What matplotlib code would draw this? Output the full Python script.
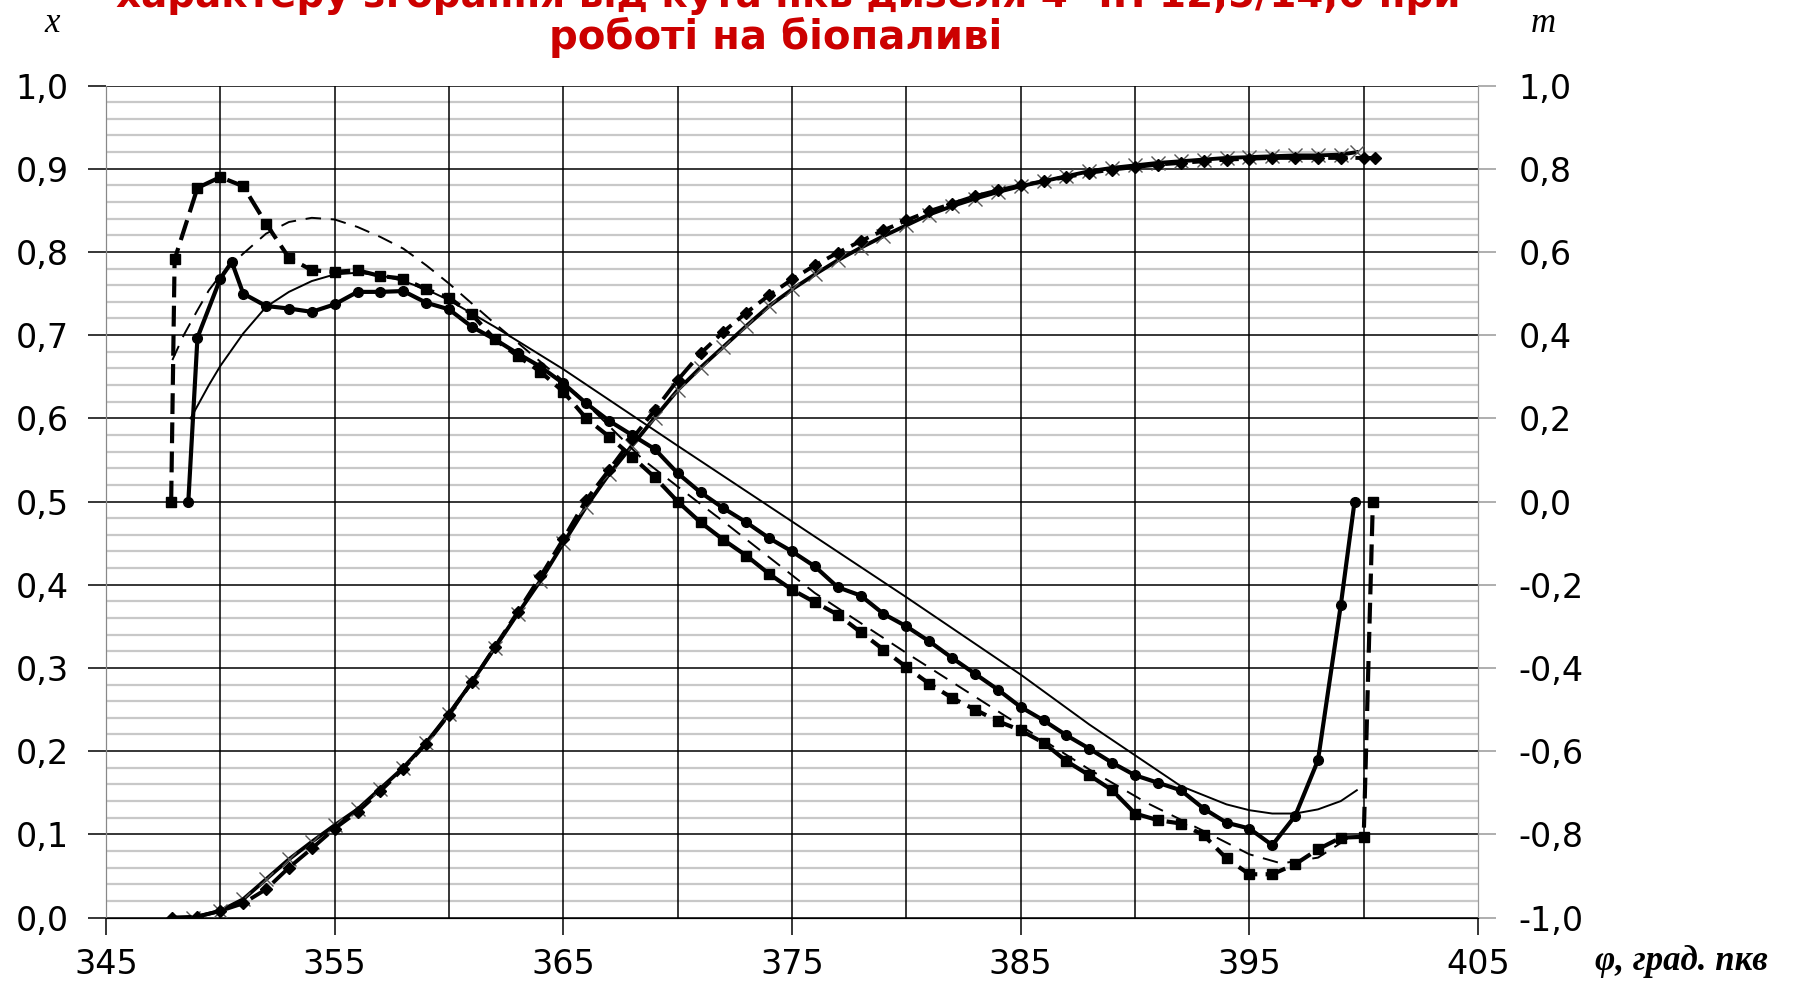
import matplotlib
matplotlib.use("Agg")
import matplotlib.pyplot as plt

# burned fraction x (left axis)
phi_x_solid = [348.8] + list(range(350, 400)) + [399.7]
x_solid = [0.0, 0.008, 0.022, 0.046, 0.07, 0.091, 0.111, 0.13, 0.155, 0.18, 0.21, 0.245,
           0.283, 0.324, 0.365, 0.405, 0.45, 0.494, 0.533, 0.567, 0.601, 0.634, 0.661, 0.686,
           0.711, 0.735, 0.755, 0.773, 0.79, 0.805, 0.819, 0.832, 0.845, 0.855, 0.864, 0.872,
           0.879, 0.885, 0.891, 0.897, 0.901, 0.904, 0.907, 0.909, 0.911, 0.913, 0.914, 0.915,
           0.916, 0.916, 0.917, 0.92]
phi_x_dash = [347.9] + list(range(349, 401)) + [400.5]
x_dash = [0.0, 0.001, 0.008, 0.017, 0.034, 0.06, 0.083, 0.107, 0.127, 0.152, 0.179, 0.209,
          0.244, 0.283, 0.325, 0.367, 0.41, 0.455, 0.502, 0.538, 0.575, 0.61, 0.646, 0.678,
          0.704, 0.727, 0.748, 0.767, 0.784, 0.799, 0.813, 0.826, 0.838, 0.849, 0.858, 0.867,
          0.874, 0.88, 0.885, 0.89, 0.895, 0.899, 0.902, 0.905, 0.907, 0.909, 0.911, 0.912,
          0.913, 0.913, 0.913, 0.913, 0.913, 0.913]

# combustion character m (right axis)
phi_m_circ = [348.6, 349, 350, 350.5] + list(range(351, 400)) + [399.6]
m_circ = [0.0, 0.394, 0.536, 0.576, 0.5, 0.47, 0.464, 0.456, 0.474, 0.504, 0.504, 0.506,
          0.478, 0.462, 0.42, 0.39, 0.356, 0.324, 0.284, 0.236, 0.194, 0.16, 0.126, 0.068,
          0.022, -0.016, -0.05, -0.088, -0.12, -0.156, -0.206, -0.226, -0.27, -0.3, -0.336,
          -0.376, -0.414, -0.452, -0.494, -0.526, -0.562, -0.594, -0.628, -0.658, -0.676,
          -0.694, -0.738, -0.772, -0.786, -0.826, -0.756, -0.622, -0.248, 0.0]
phi_m_sq = [347.85, 348] + list(range(349, 401)) + [400.4]
m_sq = [0.0, 0.582, 0.754, 0.78, 0.758, 0.668, 0.586, 0.556, 0.552, 0.556, 0.542, 0.536,
        0.51, 0.49, 0.45, 0.39, 0.35, 0.312, 0.264, 0.2, 0.156, 0.108, 0.058, 0.0, -0.05,
        -0.092, -0.13, -0.174, -0.212, -0.242, -0.272, -0.314, -0.356, -0.398, -0.438,
        -0.472, -0.5, -0.528, -0.55, -0.58, -0.624, -0.658, -0.694, -0.75, -0.766, -0.774,
        -0.802, -0.858, -0.896, -0.896, -0.872, -0.836, -0.808, -0.806, 0.0]
phi_m_thin = [348.7, 349.5, 350, 351, 352, 353, 354, 355, 356, 357, 358, 359, 360, 362, 365,
              370, 375, 380, 385, 388, 390, 392, 394, 395, 396, 397, 398, 399, 399.7]
m_thin = [0.2, 0.28, 0.326, 0.404, 0.468, 0.504, 0.53, 0.546, 0.55, 0.544, 0.53, 0.51, 0.484,
          0.42, 0.318, 0.134, -0.048, -0.23, -0.416, -0.536, -0.61, -0.684, -0.728, -0.742,
          -0.75, -0.75, -0.74, -0.72, -0.694]
phi_m_thin_d = [347.9, 348.4, 349, 349.5, 350, 351, 352, 353, 354, 355, 356, 357, 358, 359,
                360, 361, 362, 365, 368.5, 370, 372, 376, 380, 384, 388, 390.5, 393, 395,
                396.4, 398, 399.3]
m_thin_d = [0.34, 0.4, 0.46, 0.508, 0.544, 0.596, 0.644, 0.672, 0.682, 0.678, 0.66, 0.636,
            0.608, 0.568, 0.524, 0.476, 0.428, 0.29, 0.1, 0.036, -0.048, -0.22, -0.364,
            -0.504, -0.644, -0.724, -0.792, -0.848, -0.87, -0.856, -0.81]

x_ticks = [345, 355, 365, 375, 385, 395, 405]
x_grid = [350, 355, 360, 365, 370, 375, 380, 385, 390, 395, 400]
left_ticks = [0.0, 0.1, 0.2, 0.3, 0.4, 0.5, 0.6, 0.7, 0.8, 0.9, 1.0]
left_labels = ["0,0", "0,1", "0,2", "0,3", "0,4", "0,5", "0,6", "0,7", "0,8", "0,9", "1,0"]
right_ticks = [-1.0, -0.8, -0.6, -0.4, -0.2, 0.0, 0.2, 0.4, 0.6, 0.8, 1.0]
right_labels = ["-1,0", "-0,8", "-0,6", "-0,4", "-0,2", "0,0", "0,2", "0,4", "0,6", "0,8", "1,0"]

fig = plt.figure(figsize=(18.12, 9.81), dpi=100)
ax = fig.add_axes([0.0585, 0.0647, 0.7572, 0.8481])
ax2 = ax.twinx()

ax.set_xlim(345, 405)
ax.set_ylim(0, 1)
ax2.set_ylim(-1, 1)

# grid: light minor rows, black major rows, black columns every 5 deg
ax.set_yticks([i * 0.02 for i in range(51)], minor=True)
ax.grid(which="minor", axis="y", color="#c8c8c8", lw=1.6)
ax.set_yticks(left_ticks)
ax.set_yticklabels(left_labels)
ax.grid(which="major", axis="y", color="black", lw=1.1)
ax.set_xticks(x_ticks)
for g in x_grid:
    ax.axvline(g, color="black", lw=1.1, zorder=1.8)
ax.tick_params(which="minor", length=0)
ax.tick_params(axis="y", which="major", length=13, color="black", width=1.1, pad=14,
               labelsize=24)
ax.tick_params(axis="x", which="major", length=12, color="black", width=1.1, pad=10,
               labelsize=24)
for lab in ax.get_xticklabels() + ax.get_yticklabels():
    lab.set_fontfamily("DejaVu Sans")

ax2.set_yticks(right_ticks)
ax2.set_yticklabels(right_labels)
ax2.tick_params(axis="y", length=13, color="#999999", width=1.1, pad=16, labelsize=24)
for lab in ax2.get_yticklabels():
    lab.set_fontfamily("DejaVu Sans")

for a in (ax, ax2):
    a.spines["top"].set_visible(False)
    a.spines["left"].set_color("#888888")
    a.spines["right"].set_color("#999999")
    a.spines["bottom"].set_color("black")

# x curves
ax.plot(phi_x_solid, x_solid, "-", color="black", lw=2.8, marker="x", ms=10, mew=1,
        mec="#555555", zorder=5)
ax.plot(phi_x_dash, x_dash, color="black", lw=2.8, ls=(0, (5, 2)), marker="D", ms=6,
        zorder=5)

# m curves
ax2.plot(phi_m_circ, m_circ, "-", color="black", lw=3.0, marker="o", ms=7, zorder=5)
ax2.plot(phi_m_sq, m_sq, color="black", lw=3.0, ls=(0, (5, 2)), marker="s", ms=7, zorder=5)
ax2.plot(phi_m_thin, m_thin, "-", color="black", lw=1.4, zorder=4)
ax2.plot(phi_m_thin_d, m_thin_d, color="black", lw=1.4, ls=(0, (8, 5)), zorder=4)

# titles / labels (first title line is clipped by the top edge as in the source)
fig.text(0.435, 1 - 7 / 981, "характеру згорання від кута пкв дизеля 4 ЧН 12,5/14,0 при",
         ha="center", va="baseline", color="#cc0000", fontsize=28, fontweight="bold",
         family="DejaVu Sans")
fig.text(0.428, 1 - 49 / 981, "роботі на біопаливі", ha="center", va="baseline",
         color="#cc0000", fontsize=29, fontweight="bold", family="DejaVu Sans")
fig.text(52 / 1812, 1 - 23 / 981, "x", ha="center", va="center", fontsize=25,
         style="italic", family="Liberation Serif")
fig.text(1543 / 1812, 1 - 23 / 981, "m", ha="center", va="center", fontsize=25,
         style="italic", family="Liberation Serif")
fig.text(1681 / 1812, 1 - 961 / 981, "φ, град. пкв", ha="center", va="center",
         fontsize=25, style="italic", fontweight="bold", family="Liberation Serif")

fig.savefig("out.png", dpi=100)
